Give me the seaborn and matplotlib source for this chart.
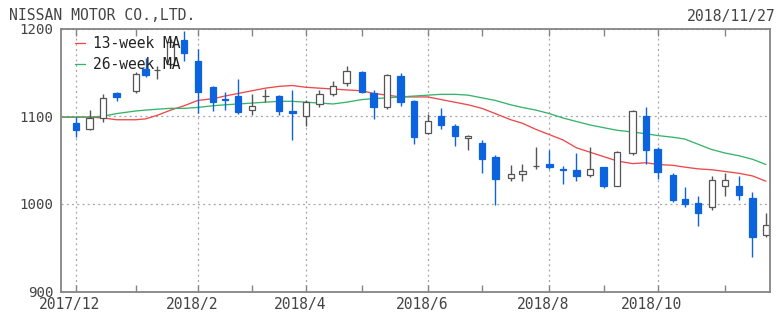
import numpy as np
import pandas as pd
import matplotlib
matplotlib.use("Agg")
import matplotlib.pyplot as plt
import matplotlib.dates as mdates
import matplotlib.transforms as mtransforms
import seaborn as sns

# ---------------- data ----------------
title = "NISSAN MOTOR CO.,LTD."
date_text = "2018/11/27"

week_dates = ["2017-12-04", "2017-12-11", "2017-12-18", "2017-12-25",
              "2018-01-04", "2018-01-09", "2018-01-15", "2018-01-22", "2018-01-29",
              "2018-02-05", "2018-02-13", "2018-02-19", "2018-02-26",
              "2018-03-05", "2018-03-12", "2018-03-19", "2018-03-26",
              "2018-04-02", "2018-04-09", "2018-04-16", "2018-04-23",
              "2018-05-01", "2018-05-07", "2018-05-14", "2018-05-21", "2018-05-28",
              "2018-06-04", "2018-06-11", "2018-06-18", "2018-06-25",
              "2018-07-02", "2018-07-09", "2018-07-17", "2018-07-23", "2018-07-30",
              "2018-08-06", "2018-08-13", "2018-08-20", "2018-08-27",
              "2018-09-03", "2018-09-10", "2018-09-18", "2018-09-25",
              "2018-10-01", "2018-10-09", "2018-10-15", "2018-10-22", "2018-10-29",
              "2018-11-05", "2018-11-12", "2018-11-19", "2018-11-26"]

opens = [1092, 1085, 1098, 1126, 1129, 1154, 1153, 1160, 1187,
         1163, 1133, 1120, 1123, 1107, 1123, 1123, 1106,
         1100, 1114, 1125, 1138, 1150, 1126, 1110, 1146, 1117,
         1081, 1100, 1089, 1075, 1069, 1054, 1030, 1034, 1043,
         1046, 1040, 1039, 1033, 1042, 1021, 1058, 1100,
         1063, 1033, 1006, 1001, 996, 1021, 1021, 1007, 965]
highs = [1099, 1107, 1125, 1128, 1150, 1166, 1157, 1188, 1197,
         1177, 1135, 1128, 1142, 1125, 1131, 1124, 1130,
         1118, 1130, 1140, 1157, 1152, 1130, 1148, 1149, 1118,
         1103, 1109, 1091, 1079, 1073, 1056, 1044, 1046, 1065,
         1062, 1043, 1058, 1065, 1042, 1060, 1107, 1110,
         1065, 1035, 1019, 1009, 1032, 1035, 1032, 1014, 990]
lows = [1076, 1084, 1093, 1117, 1127, 1145, 1143, 1158, 1163,
        1104, 1106, 1107, 1102, 1101, 1116, 1101, 1073,
        1089, 1110, 1123, 1134, 1126, 1097, 1108, 1112, 1068,
        1080, 1086, 1066, 1061, 1035, 999, 1026, 1026, 1040,
        1040, 1023, 1026, 1031, 1018, 1020, 1056, 1046,
        1029, 1002, 997, 975, 993, 1009, 1004, 939, 962]
closes = [1084, 1098, 1121, 1122, 1148, 1147, 1153, 1185, 1172,
          1128, 1116, 1118, 1105, 1112, 1123, 1106, 1104,
          1116, 1125, 1134, 1152, 1128, 1110, 1147, 1116, 1076,
          1094, 1090, 1078, 1078, 1051, 1028, 1034, 1038, 1043,
          1042, 1039, 1032, 1040, 1021, 1059, 1106, 1062,
          1037, 1004, 1000, 990, 1027, 1027, 1010, 962, 976]

ma_dates = ["2017-11-27"] + week_dates
ma13 = [1099, 1099, 1099, 1098, 1096, 1096, 1097, 1101, 1107, 1112,
        1118, 1120, 1123, 1126, 1129, 1132, 1134, 1135,
        1133, 1132, 1131, 1130, 1129, 1126, 1124, 1122, 1122,
        1122, 1119, 1116, 1113, 1109, 1103, 1096, 1092, 1085,
        1079, 1073, 1064, 1059, 1054, 1049, 1046, 1047,
        1045, 1044, 1042, 1040, 1039, 1037, 1035, 1032, 1026]
ma26 = [1099, 1099, 1099, 1100, 1103, 1106, 1107, 1108, 1109, 1109,
        1110, 1112, 1113, 1114, 1115, 1116, 1117, 1117,
        1116, 1115, 1114, 1116, 1119, 1120, 1121, 1122, 1123,
        1124, 1125, 1125, 1124, 1121, 1118, 1113, 1110, 1107,
        1103, 1098, 1094, 1090, 1087, 1084, 1082, 1080,
        1078, 1076, 1074, 1068, 1062, 1058, 1055, 1051, 1045]
series_names = ["13-week MA", "26-week MA"]

label_dates = ["2017-12-04", "2018-02-05", "2018-04-02", "2018-06-04", "2018-08-06", "2018-10-01"]
tick_labels = ["2017/12", "2018/2", "2018/4", "2018/6", "2018/8", "2018/10"]
minor_dates = ["2018-01-04", "2018-03-05", "2018-05-01", "2018-07-02", "2018-09-03", "2018-11-05"]
yticks = [900, 1000, 1100, 1200]

# ---------------- style ----------------
sns.set_theme(style="white")
plt.rcParams["font.family"] = ["DejaVu Sans Mono", "DejaVu Sans"]

C_UP_EDGE = "#555555"
C_DOWN = "#0b63de"
C_RED = "#ee4848"
C_GREEN = "#36b46a"
C_GRID = "#a8a8a8"
C_SPINE = "#858585"
C_TEXT = "#444444"

fig = plt.figure(figsize=(7.81, 3.17), dpi=100)
ax = fig.add_axes([61 / 781, 1 - 291.7 / 317, (769.5 - 61) / 781, (291.7 - 28.5) / 317])

# moving averages via seaborn
ma_dt = pd.to_datetime(ma_dates)
df = pd.DataFrame({
    "date": list(ma_dt) * 2,
    "value": ma13 + ma26,
    "series": [series_names[0]] * len(ma13) + [series_names[1]] * len(ma26),
})
sns.lineplot(data=df, x="date", y="value", hue="series",
             palette={series_names[0]: C_RED, series_names[1]: C_GREEN},
             linewidth=0.95, ax=ax, zorder=2)

# candles
x = mdates.date2num(pd.to_datetime(week_dates))
o = np.array(opens, float)
h = np.array(highs, float)
l = np.array(lows, float)
c = np.array(closes, float)
body_w = 3.3
for xi, oi, hi, li, ci in zip(x, o, h, l, c):
    if ci > oi:
        col, face = C_UP_EDGE, "white"
    elif ci < oi:
        col, face = C_DOWN, C_DOWN
    else:
        col, face = C_UP_EDGE, C_UP_EDGE
    ax.vlines(xi, li, hi, color=col, linewidth=1.0, zorder=3)
    ax.bar(xi, abs(ci - oi), width=body_w, bottom=min(oi, ci), color=face,
           edgecolor=col, linewidth=0.9, zorder=4)

# axes limits & ticks
ax.set_xlim(mdates.date2num(pd.Timestamp("2017-11-26 06:00")),
            mdates.date2num(pd.Timestamp("2018-11-27 21:00")))
ax.set_ylim(yticks[0], yticks[-1])
ax.set_yticks(yticks)
ax.set_yticklabels([str(v) for v in yticks])
ax.set_xticks(mdates.date2num(pd.to_datetime(label_dates)))
ax.set_xticklabels(tick_labels)
ax.set_xticks(mdates.date2num(pd.to_datetime(minor_dates)), minor=True)
ax.set_xlabel("")
ax.set_ylabel("")

ax.tick_params(axis="x", which="both", direction="in", length=5, width=1,
               color=C_SPINE, top=True, bottom=True, labelsize=10.5,
               labelcolor=C_TEXT, pad=3.5)
ax.tick_params(axis="y", which="both", length=0, labelsize=10.2,
               labelcolor=C_TEXT, pad=5.5)

ax.grid(True, which="major", color=C_GRID, linewidth=0.9, linestyle=(0, (1.6, 2.6)))
ax.set_axisbelow(True)
for sp in ax.spines.values():
    sp.set_visible(True)
    sp.set_color(C_SPINE)
    sp.set_linewidth(1.3)
    sp.set_zorder(6)

# shift x labels slightly left (as in reference)
offset = mtransforms.ScaledTranslation(-6 / 100, 0, fig.dpi_scale_trans)
for lab in ax.get_xticklabels():
    lab.set_transform(lab.get_transform() + offset)

# legend
handles, labels = ax.get_legend_handles_labels()
leg = ax.legend(handles, labels, loc="upper left", bbox_to_anchor=(0.02, 0.97),
                frameon=False, fontsize=10.5, handlelength=0.7, handletextpad=0.5,
                labelspacing=0.4, borderaxespad=0, borderpad=0)
for t in leg.get_texts():
    t.set_color("#222222")
leg.set_zorder(7)

fig.text(9 / 781, 1 - 16 / 317, title, ha="left", va="center", fontsize=10.6, color=C_TEXT)
fig.text(776 / 781, 1 - 16 / 317, date_text, ha="right", va="center", fontsize=10.6, color=C_TEXT)

fig.savefig("out.png", dpi=100, facecolor="white")
